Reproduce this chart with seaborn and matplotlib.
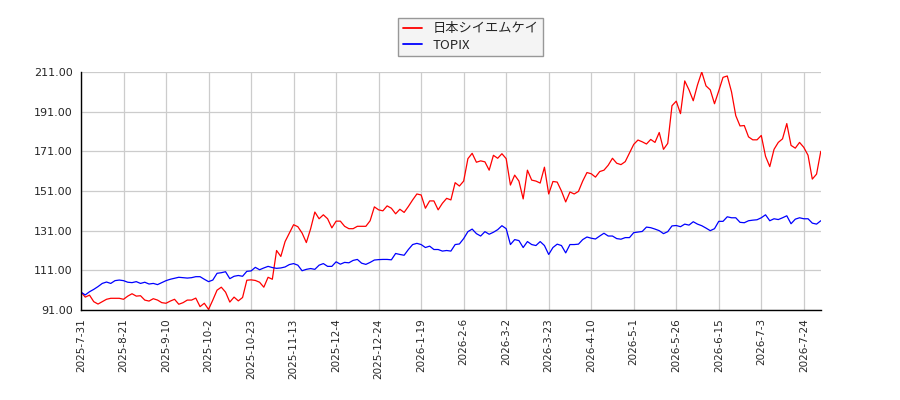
import pandas as pd
import matplotlib
matplotlib.use("Agg")
import matplotlib.pyplot as plt
import seaborn as sns

# x tick labels, one every 10 samples
tick_labels = ["2025-7-31", "2025-8-21", "2025-9-10", "2025-10-2", "2025-10-23",
               "2025-11-13", "2025-12-4", "2025-12-24", "2026-1-19", "2026-2-6",
               "2026-3-2", "2026-3-23", "2026-4-10", "2026-5-1", "2026-5-26",
               "2026-6-15", "2026-7-3", "2026-7-24"]

# 日本シイエムケイ (indexed to 100)
cmk = [100, 97.5, 98.5, 95.2, 94, 95.2, 96.4, 96.9, 96.9, 96.9,
       96.4, 98, 99.2, 98, 98.2, 96, 95.5, 96.7, 96, 94.7,
       94.4, 95.5, 96.4, 93.9, 94.7, 96, 96, 97, 92.7, 94.4,
       91.3, 96, 101, 102.5, 100, 95, 97.5, 95.6, 97.3, 106,
       106.2, 105.9, 105, 102.5, 107.5, 106.5, 121, 118, 125.5, 129.8,
       134, 133, 129.8, 125, 131.9, 140.4, 137, 139, 137, 132.4,
       135.8, 135.8, 133.2, 132, 132, 133.2, 133.2, 133.2, 136, 143,
       141.5, 141, 143.5, 142.3, 139.5, 141.8, 140.2, 143.2, 146.5, 149.5,
       149, 142.3, 146, 146, 141.5, 144.8, 147.3, 146.5, 155.2, 153.5,
       156, 167.3, 170, 165.5, 166.2, 165.7, 161.5, 169, 167.5, 169.8,
       167.3, 154, 159, 156, 147, 161.5, 156.5, 156, 155, 163,
       149.5, 155.8, 155.5, 151, 145.5, 150.5, 149.5, 150.8, 156, 160.3,
       159.7, 158, 160.8, 161.5, 164, 167.5, 165, 164.3, 165.8, 170.2,
       174.5, 176.7, 175.8, 174.7, 177, 175.5, 180.5, 172, 175, 194,
       196.3, 190, 206.5, 202, 196.5, 204.5, 211, 204, 202, 195,
       201.5, 208.3, 209, 201, 189, 183.8, 184, 178.3, 176.8, 176.8,
       179, 168.5, 163.3, 172, 175.5, 177.3, 185, 174, 172.6, 175.5,
       173, 169, 157, 159.5, 171]

# TOPIX (indexed to 100)
topix = [100, 98.6, 100.2, 101.4, 102.8, 104.4, 105.1, 104.4, 105.8, 106.1,
         105.8, 105, 104.8, 105.3, 104.4, 105, 104.1, 104.4, 103.8, 104.8,
         105.8, 106.5, 107, 107.5, 107.3, 107.1, 107.3, 107.8, 107.8, 106.5,
         105.3, 106.1, 109.5, 109.8, 110.3, 106.8, 108, 108.4, 108, 110.5,
         110.7, 112.5, 111.3, 112.2, 113, 112.4, 112, 112.2, 112.7, 113.9,
         114.4, 113.6, 110.8, 111.5, 111.9, 111.5, 113.6, 114.4, 113, 113,
         115.3, 114.1, 115, 114.8, 116, 116.5, 114.6, 114, 115, 116.2,
         116.4, 116.5, 116.5, 116.3, 119.5, 119, 118.6, 121.5, 124, 124.6,
         124, 122.5, 123.2, 121.5, 121.5, 120.7, 121, 120.7, 124, 124.3,
         127, 130.5, 131.8, 129.5, 128.3, 130.5, 129.2, 130.2, 131.5, 133.5,
         132, 124, 126.5, 126, 122.5, 125.5, 124, 123.5, 125.5, 123.5,
         119, 122.5, 124.2, 123.5, 119.8, 124, 124, 124.2, 126.5, 127.8,
         127.2, 126.8, 128.3, 129.7, 128.3, 128.3, 127, 126.7, 127.5, 127.5,
         130, 130.3, 130.6, 132.8, 132.5, 131.8, 131, 129.5, 130.5, 133.4,
         133.6, 133, 134.3, 133.8, 135.5, 134.3, 133.5, 132.3, 131, 132,
         135.7, 135.7, 138, 137.5, 137.5, 135.2, 135, 136, 136.3, 136.5,
         137.5, 139, 136, 137, 136.6, 137.5, 138.5, 134.5, 136.8, 137.5,
         137, 137, 134.8, 134.3, 136]

y_ticks = [91, 111, 131, 151, 171, 191, 211]

df = pd.DataFrame({"idx": range(len(cmk)), "日本シイエムケイ": cmk, "TOPIX": topix})
long_df = df.melt(id_vars="idx", var_name="name", value_name="value")

sns.set_style("white")
plt.rcParams["font.family"] = ["DejaVu Sans", "Noto Sans CJK JP"]

fig = plt.figure(figsize=(9, 4), dpi=100)
ax = fig.add_axes([0.09, 0.225, 0.822, 0.595])

sns.lineplot(data=long_df, x="idx", y="value", hue="name",
             palette={"日本シイエムケイ": "red", "TOPIX": "blue"},
             linewidth=0.9, ax=ax, legend=False)

ax.set_xlim(0, len(cmk) - 1)
ax.set_ylim(91, 211)
ax.set_yticks(y_ticks)
ax.set_yticklabels([f"{v:.2f}" for v in y_ticks], fontsize=8)
ax.set_xticks(range(0, len(cmk), 10))
ax.set_xticklabels(tick_labels, rotation=90, fontsize=7.5)
ax.set_xlabel("")
ax.set_ylabel("")

ax.grid(True, color="#cccccc", linewidth=0.9)
ax.set_axisbelow(True)
for side in ["top", "right"]:
    ax.spines[side].set_visible(False)
for side in ["left", "bottom"]:
    ax.spines[side].set_color("black")
    ax.spines[side].set_linewidth(1)
ax.tick_params(axis="both", direction="out", length=4, width=1, color="black", pad=2)

handles = [plt.Line2D([], [], color="red", linewidth=1.3),
           plt.Line2D([], [], color="blue", linewidth=1.3)]
fig.legend(handles, ["日本シイエムケイ", "TOPIX"], loc="upper center",
           bbox_to_anchor=(0.523, 0.972), frameon=True,
           facecolor="#f2f2f2", edgecolor="#808080", fancybox=False,
           prop={"family": ["Noto Sans CJK JP"], "size": 9.5},
           handlelength=1.5, handletextpad=0.8, borderpad=0.35, labelspacing=0.25)

fig.savefig("out.png", dpi=100)
